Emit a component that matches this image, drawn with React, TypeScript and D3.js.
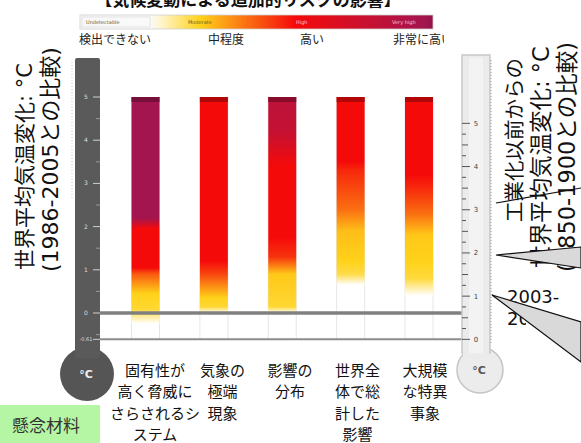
import React from "react";
import * as d3 from "d3";

const W = 581;
const H = 443;

const title = "【気候変動による追加的リスクの影響】";
const riskLevels = ["検出できない", "中程度", "高い", "非常に高い"];
const riskLevelsEn = ["Undetectable", "Moderate", "High", "Very high"];
const riskColors = ["#ffffff", "#ffd21a", "#f50a0a", "#a3154f"];

const categories = [
  ["固有性が", "高く脅威に", "さらされるシ", "ステム"],
  ["気象の", "極端", "現象"],
  ["影響の", "分布"],
  ["世界全", "体で総", "計した", "影響"],
  ["大規模", "な特異", "事象"],
];

// [temperature change vs 1986-2005 (°C), risk level 0..3]
const uniqueSystems = [[-0.25, 0], [0.1, 0.9], [0.45, 1], [0.9, 1.6], [1.05, 2], [1.95, 2], [2.2, 3], [5, 3]];
const extremeWeather = [[0, 0], [0.15, 0.9], [0.35, 1], [0.9, 1.7], [1.2, 2], [5, 2]];
const distribution = [[0, 0], [0.15, 0.9], [0.9, 1.05], [1.3, 1.8], [1.75, 2], [3.4, 2], [4.2, 2.6], [5, 2.7]];
const globalAggregate = [[0.65, 0], [0.9, 0.8], [1.2, 1], [1.9, 1.1], [2.4, 1.5], [3.3, 1.85], [3.5, 2], [5, 2]];
const singularEvents = [[0.4, 0], [0.8, 0.85], [1.2, 1], [1.8, 1.05], [2.3, 1.5], [2.9, 1.85], [3.2, 2], [5, 2]];
const barStops = [uniqueSystems, extremeWeather, distribution, globalAggregate, singularEvents];

const leftTicks = [5, 4, 3, 2, 1, 0, -0.61];
const rightTicks = [5, 4, 3, 2, 1, 0];
const preindustrialOffset = 0.61;
const leftTitle = ["世界平均気温変化: °C", "(1986-2005との比較)"];
const rightTitle = ["工業化以前からの", "世界平均気温変化: °C", "(1850-1900との比較)"];
const observedPeriod = ["2003-", "2012"];
const concernLabel = "懸念材料";

const FONT = "'DejaVu Sans', 'Noto Sans CJK JP', sans-serif";
const JFONT = "'Noto Sans CJK JP', sans-serif";

export default function App() {
  const yL = d3.scaleLinear().domain([0, 5]).range([313, 97]);
  const yR = d3
    .scaleLinear()
    .domain([0, 5])
    .range([yL(-preindustrialOffset), yL(5 - preindustrialOffset)]);
  const idx = d3.range(categories.length);
  const xBar = d3.scalePoint<number>().domain(idx).range([145.5, 419]);
  const xLabel = d3.scalePoint<number>().domain(idx).range([155, 425]);
  const barW = 28;
  const riskColor = d3
    .scaleLinear<string>()
    .domain([0, 1, 2, 3])
    .range(riskColors)
    .interpolate(d3.interpolateRgb)
    .clamp(true);
  const legend = { x0: 80, x1: 433, y: 15, h: 14 };
  const legendX = d3.scaleLinear().domain([0, 1, 2, 3]).range([150, 200, 295, 425]);
  const legendLabelX = d3.scaleLinear().domain([0, 1, 2, 3]).range([79, 208, 300, 393]);
  const legendEnX = d3.scaleLinear().domain([0, 1, 2, 3]).range([86, 188, 296, 392]);
  const legendLevels = d3.range(0, 3.001, 0.25);

  const leftMinor = d3.range(-0.5, 5.01, 0.5).filter((v) => !Number.isInteger(v));
  const rightMinor = d3.range(0, 5.01, 0.25);

  const leftTitleSize = [21, 22];
  const leftTitleX = [32, 58];
  const leftTitleBase = [270, 272];
  const rightTitleSize = [20.5, 22.5, 22.5];
  const rightTitleX = [522, 549, 575];
  const rightTitleBase = [222, 268, 272];

  return (
    <svg
      width={W}
      height={H}
      viewBox={`0 0 ${W} ${H}`}
      style={{ position: "absolute", left: 0, top: 0, background: "#fff" }}
      fontFamily={FONT}
    >
      <defs>
        <linearGradient id="legendGrad" x1="0" x2="1" y1="0" y2="0">
          <stop offset={0} stopColor="#f7f7f7" />
          {legendLevels.map((l) => (
            <stop
              key={l}
              offset={(legendX(l) - legend.x0) / (legend.x1 - legend.x0)}
              stopColor={l === 0 ? "#fafafa" : riskColor(l)}
            />
          ))}
          <stop offset={1} stopColor={d3.color(riskColor(3))!.darker(0.3).toString()} />
        </linearGradient>
        {barStops.map((stops, i) => {
          const top = yL(5);
          const bottom = yL(stops[0][0]);
          return (
            <linearGradient
              key={i}
              id={`bar${i}`}
              gradientUnits="userSpaceOnUse"
              x1={0}
              x2={0}
              y1={top}
              y2={bottom}
            >
              {[...stops].reverse().map(([t, lv], k) => (
                <stop key={k} offset={(yL(t) - top) / (bottom - top)} stopColor={riskColor(lv)} />
              ))}
            </linearGradient>
          );
        })}
        <clipPath id="levelClip">
          <rect x={0} y={0} width={444} height={60} />
        </clipPath>
        <clipPath id="periodClip">
          <rect x={500} y={270} width={26} height={70} />
        </clipPath>
      </defs>

      {/* title (cut at top) */}
      <text x={248} y={6} textAnchor="middle" fontSize={17} fontWeight="bold" fill="#111" fontFamily={JFONT}>
        {title}
      </text>

      {/* legend colour bar */}
      <rect x={legend.x0} y={legend.y} width={legend.x1 - legend.x0} height={legend.h} fill="url(#legendGrad)" stroke="#d0d0d0" strokeWidth={0.8} />
      <rect x={legend.x0 + 2} y={legend.y + 2} width={68} height={legend.h - 4} fill="none" stroke="#d5d5d5" strokeWidth={0.6} />
      {riskLevelsEn.map((t, i) => (
        <text key={t} x={legendEnX(i)} y={legend.y + 9} fontSize={5} fill={i < 2 ? "#6a5a2a" : "#f7c9cf"}>
          {t}
        </text>
      ))}
      <g clipPath="url(#levelClip)">
        {riskLevels.map((t, i) => (
          <text key={t} x={legendLabelX(i)} y={44} fontSize={12} fill="#222" fontFamily={JFONT}>
            {t}
          </text>
        ))}
      </g>

      {/* faint grid along bar edges */}
      {idx.map((i) => (
        <g key={i} stroke="#e6e6e6" strokeWidth={1}>
          <line x1={xBar(i)! - barW / 2} x2={xBar(i)! - barW / 2} y1={yL(5)} y2={yL(-preindustrialOffset)} />
          <line x1={xBar(i)! + barW / 2} x2={xBar(i)! + barW / 2} y1={yL(5)} y2={yL(-preindustrialOffset)} />
        </g>
      ))}

      {/* risk bars */}
      {barStops.map((stops, i) => {
        const top = yL(5);
        const bottom = yL(stops[0][0]);
        const topColor = riskColor(stops[stops.length - 1][1]);
        return (
          <g key={i}>
            <rect x={xBar(i)! - barW / 2} y={top} width={barW} height={bottom - top} fill={`url(#bar${i})`} />
            <rect x={xBar(i)! - barW / 2} y={top} width={barW} height={5} fill={d3.color(topColor)!.darker(1.1).toString()} opacity={0.85} />
          </g>
        );
      })}

      {/* reference lines */}
      <line x1={100} x2={462} y1={yL(0)} y2={yL(0)} stroke="#808080" strokeWidth={3.5} />
      <line x1={100} x2={462} y1={yL(-preindustrialOffset)} y2={yL(-preindustrialOffset)} stroke="#8c8c8c" strokeWidth={2} />

      {/* left thermometer */}
      <circle cx={87} cy={374} r={27} fill="#555" />
      <rect x={75} y={58} width={25} height={300} fill="#5a5a5a" rx={2} />
      <line x1={72} x2={72} y1={62} y2={200} stroke="#c8c8c8" strokeDasharray="1,2" />
      {leftTicks.map((v) => (
        <g key={v}>
          <line x1={93} x2={100} y1={yL(v)} y2={yL(v)} stroke="#cfcfcf" strokeWidth={1} />
          <text x={86} y={yL(v) + 2} fontSize={v < 0 ? 5 : 6} textAnchor="middle" fill="#dedede">
            {v}
          </text>
        </g>
      ))}
      {leftMinor.map((v) => (
        <line key={v} x1={96} x2={100} y1={yL(v)} y2={yL(v)} stroke="#a8a8a8" strokeWidth={0.8} />
      ))}
      <text x={86} y={378} fontSize={11} fontWeight="bold" textAnchor="middle" fill="#eee">
        °C
      </text>

      {/* right thermometer */}
      <circle cx={480} cy={370} r={23} fill="#ececec" stroke="#c4c4c4" strokeWidth={1.5} />
      <rect x={462} y={55} width={28} height={298} fill="#ebebeb" stroke="#c9c9c9" strokeWidth={1.5} />
      <rect x={463} y={345} width={26} height={14} fill="#ebebeb" />
      <rect x={469} y={58} width={14} height={295} fill="#f3f3f3" />
      <line x1={491} x2={491} y1={60} y2={345} stroke="#9a9a9a" strokeDasharray="1,2" />
      {rightMinor.map((v) => (
        <line
          key={v}
          x1={462}
          x2={462 + (Number.isInteger(v) ? 8 : v % 0.5 === 0 ? 6 : 4)}
          y1={yR(v)}
          y2={yR(v)}
          stroke="#555"
          strokeWidth={1}
        />
      ))}
      {rightTicks.map((v) => (
        <text key={v} x={476} y={yR(v) + 2.5} fontSize={7} textAnchor="middle" fill="#444">
          {v}
        </text>
      ))}
      <text x={479} y={374} fontSize={11} fontWeight="bold" textAnchor="middle" fill="#555">
        °C
      </text>

      {/* white box behind category labels */}
      <rect x={117} y={342} width={330} height={101} fill="#fff" />
      {categories.map((lines, i) => (
        <text key={i} textAnchor="middle" fontSize={15} fill="#111" fontFamily={JFONT}>
          {lines.map((ln, j) => (
            <tspan key={j} x={xLabel(i)} y={376 + j * 21.3}>
              {ln}
            </tspan>
          ))}
        </text>
      ))}

      {/* left axis title */}
      {leftTitle.map((t, j) => (
        <text
          key={t}
          transform={`translate(${leftTitleX[j]},${leftTitleBase[j]}) rotate(-90)`}
          fontSize={leftTitleSize[j]}
          fill="#111"
        >
          {t}
        </text>
      ))}

      {/* right axis title */}
      {rightTitle.map((t, j) => (
        <text
          key={t}
          transform={`translate(${rightTitleX[j]},${rightTitleBase[j]}) rotate(-90)`}
          fontSize={rightTitleSize[j]}
          fill="#111"
        >
          {t}
        </text>
      ))}

      {/* observed period */}
      <text x={507} y={303} fontSize={18} fill="#111">
        {observedPeriod[0]}
      </text>
      <g clipPath="url(#periodClip)">
        <text x={507} y={325} fontSize={18} fill="#111">
          {observedPeriod[1]}
        </text>
      </g>

      {/* callouts */}
      <line x1={496} y1={203} x2={581} y2={188} stroke="#111" strokeWidth={1.2} />
      <polygon points="496,255 581,247 581,268" fill="#d9d9d9" stroke="#111" strokeWidth={1.2} />
      <polygon points="492,295 581,322 581,362" fill="#d9d9d9" stroke="#111" strokeWidth={1.2} />

      {/* concern label */}
      <rect x={0} y={405} width={100} height={38} fill="#b4f6a4" />
      <text x={12} y={432} fontSize={17} fill="#333" fontFamily={JFONT}>
        {concernLabel}
      </text>
    </svg>
  );
}
